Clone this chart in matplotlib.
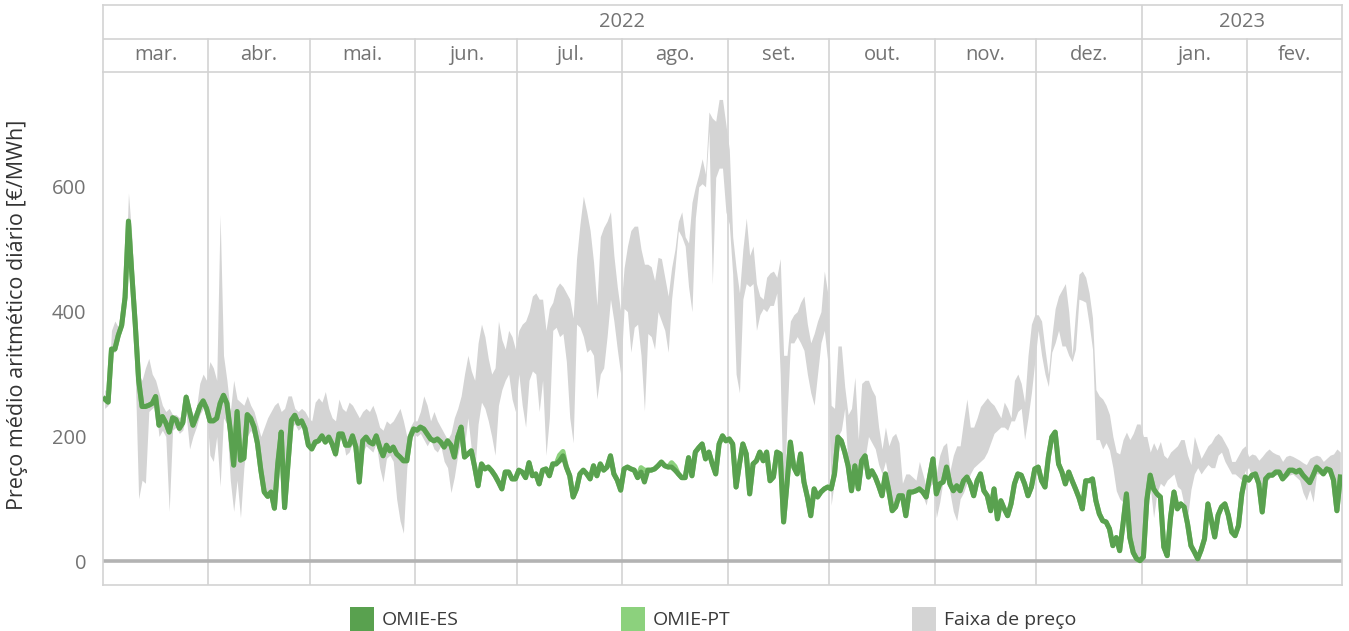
import numpy as np
import pandas as pd
import matplotlib
matplotlib.use("Agg")
import matplotlib.pyplot as plt
from matplotlib.patches import Rectangle

plt.rcParams["font.family"] = ["Open Sans", "DejaVu Sans"]

# preço médio diário OMIE-ES [€/MWh], um valor por dia (mar/2022 .. fev/2023)
ES_MAR = [260, 255, 340, 340, 362, 378, 423, 545, 460, 380, 290, 248, 248, 250, 253, 264,
          218, 232, 222, 207, 230, 227, 213, 222, 263, 240, 218, 232, 248, 257, 245]
ES_ABR = [225, 225, 229, 253, 266, 253, 210, 154, 240, 162, 165, 235, 229, 215, 189, 146,
          111, 104, 111, 85, 157, 207, 86, 157, 226, 234, 221, 225, 213, 186]
ES_MAI = [180, 191, 193, 201, 191, 199, 188, 172, 204, 204, 186, 186, 201, 183, 127, 193,
          199, 191, 188, 201, 183, 169, 186, 177, 183, 172, 167, 161, 161, 199, 212]
ES_JUN = [210, 215, 212, 204, 196, 193, 196, 191, 183, 193, 186, 167, 199, 215, 167, 172,
          177, 151, 121, 156, 148, 151, 145, 137, 127, 116, 143, 143, 132, 132]
ES_JUL = [146, 143, 134, 158, 137, 140, 124, 146, 148, 137, 156, 156, 161, 169, 151, 137,
          103, 116, 140, 146, 140, 132, 153, 137, 156, 146, 151, 169, 140, 130, 114]
ES_AGO = [148, 151, 148, 146, 134, 143, 127, 146, 146, 148, 153, 159, 153, 151, 151, 146,
          140, 134, 134, 166, 137, 175, 182, 188, 164, 175, 156, 140, 188, 201, 193]
ES_SET = [196, 188, 119, 156, 188, 172, 108, 156, 161, 175, 161, 175, 129, 135, 175, 172,
          63, 124, 191, 151, 140, 172, 127, 103, 73, 116, 103, 111, 116, 119]
ES_OUT = [116, 140, 199, 193, 175, 153, 113, 153, 116, 161, 169, 135, 145, 135, 121, 105,
          140, 113, 81, 87, 105, 105, 73, 111, 111, 113, 116, 111, 103, 135, 164]
ES_NOV = [108, 124, 127, 151, 124, 113, 121, 113, 129, 135, 124, 105, 129, 140, 113, 105,
          81, 116, 68, 97, 84, 73, 92, 124, 140, 138, 124, 105, 119, 148]
ES_DEZ = [151, 129, 119, 167, 199, 207, 156, 143, 124, 143, 129, 116, 102, 84, 129, 129,
          132, 97, 76, 65, 63, 52, 25, 38, 17, 60, 108, 38, 14, 4, 1]
ES_JAN = [7, 98, 138, 116, 108, 103, 23, 9, 71, 111, 84, 92, 87, 60, 25, 15,
          4, 18, 36, 92, 66, 39, 74, 87, 92, 74, 47, 41, 57, 108, 135]
ES_FEV = [130, 138, 140, 124, 79, 132, 138, 138, 143, 143, 132, 138, 146, 146, 143, 146,
          138, 132, 126, 138, 151, 146, 140, 148, 146, 130, 81, 135]

# OMIE-PT coincide com OMIE-ES excepto nestes dias
PT_DIFF = {"2022-07-13": 170, "2022-07-14": 176, "2022-08-06": 150, "2022-08-07": 146,
           "2022-08-15": 158, "2022-08-16": 152}

# faixa de preço (máximo / mínimo)
HI_MAR = [275, 270, 370, 385, 375, 385, 440, 590, 520, 400, 300, 290, 310, 325, 300, 290,
          270, 250, 240, 245, 235, 235, 230, 240, 270, 250, 235, 245, 285, 300, 290]
LO_MAR = [245, 250, 335, 335, 355, 370, 415, 540, 440, 300, 100, 130, 125, 240, 245, 250,
          200, 210, 200, 80, 210, 215, 205, 210, 235, 180, 200, 215, 235, 245, 240]
HI_ABR = [320, 310, 290, 555, 330, 290, 240, 290, 260, 255, 250, 265, 250, 240, 220, 200,
          215, 230, 240, 250, 255, 240, 245, 265, 265, 245, 240, 245, 240, 230]
LO_ABR = [170, 160, 200, 120, 230, 220, 130, 80, 130, 70, 150, 200, 210, 200, 160, 130,
          110, 100, 105, 80, 120, 195, 80, 145, 215, 220, 210, 215, 200, 180]
HI_MAI = [225, 255, 262, 255, 272, 245, 230, 225, 260, 245, 240, 255, 250, 240, 230, 240,
          245, 240, 250, 235, 215, 210, 225, 220, 225, 235, 245, 225, 200, 215, 225]
LO_MAI = [178, 185, 190, 195, 190, 195, 180, 165, 195, 200, 170, 175, 190, 160, 127, 175,
          185, 180, 175, 190, 150, 127, 165, 170, 160, 100, 65, 45, 150, 190, 205]
HI_JUN = [225, 240, 265, 250, 225, 240, 225, 215, 205, 195, 205, 230, 245, 265, 300, 330,
          305, 290, 350, 380, 360, 325, 300, 310, 385, 355, 340, 370, 360, 340]
LO_JUN = [200, 205, 195, 185, 195, 180, 175, 185, 160, 150, 110, 135, 170, 195, 185, 230,
          180, 140, 220, 255, 245, 225, 200, 170, 250, 275, 290, 300, 260, 240]
HI_JUL = [370, 380, 385, 400, 425, 430, 420, 420, 370, 405, 415, 438, 446, 440, 430, 420,
          390, 485, 540, 585, 560, 530, 480, 410, 520, 535, 545, 560, 490, 440, 400]
LO_JUL = [300, 250, 215, 290, 305, 300, 240, 290, 170, 230, 370, 375, 360, 365, 320, 230,
          190, 380, 375, 360, 335, 340, 330, 260, 300, 310, 360, 420, 385, 340, 300]
HI_AGO = [470, 505, 530, 537, 537, 500, 476, 476, 472, 450, 487, 485, 455, 425, 470, 500,
          545, 560, 520, 510, 575, 600, 620, 645, 620, 720, 710, 705, 740, 740, 700]
LO_AGO = [405, 400, 335, 375, 380, 330, 241, 365, 360, 340, 400, 385, 370, 335, 420, 470,
          530, 520, 505, 440, 400, 550, 600, 605, 600, 690, 444, 615, 630, 630, 560]
HI_SET = [660, 520, 470, 430, 500, 550, 490, 505, 445, 425, 420, 455, 462, 465, 455, 485,
          330, 330, 385, 395, 400, 415, 425, 380, 350, 365, 385, 400, 465, 430]
LO_SET = [540, 460, 300, 270, 420, 445, 440, 445, 370, 395, 405, 400, 410, 410, 430, 300,
          70, 230, 350, 350, 360, 350, 338, 300, 270, 250, 300, 350, 370, 320]
HI_OUT = [250, 245, 345, 345, 280, 235, 245, 295, 195, 285, 290, 290, 275, 265, 215, 180,
          215, 185, 200, 205, 190, 125, 140, 140, 135, 130, 160, 140, 120, 135, 155]
LO_OUT = [90, 130, 200, 210, 245, 150, 110, 150, 115, 160, 165, 200, 190, 180, 155, 140,
          160, 130, 80, 90, 110, 90, 70, 110, 110, 110, 115, 105, 90, 120, 125]
HI_NOV = [140, 170, 185, 190, 145, 170, 185, 185, 225, 260, 215, 215, 230, 248, 255, 262,
          255, 250, 240, 230, 255, 245, 230, 290, 300, 285, 255, 330, 380, 395]
LO_NOV = [70, 95, 130, 155, 110, 80, 65, 100, 110, 125, 140, 150, 155, 160, 165, 175,
          190, 205, 210, 215, 215, 210, 225, 225, 240, 245, 195, 230, 270, 320]
HI_DEZ = [395, 385, 340, 300, 360, 405, 425, 435, 445, 400, 330, 400, 460, 465, 455, 430,
          390, 275, 265, 260, 250, 235, 200, 175, 172, 195, 207, 195, 205, 220, 220]
LO_DEZ = [370, 330, 300, 280, 335, 350, 370, 345, 345, 330, 320, 340, 420, 418, 415, 380,
          340, 195, 195, 180, 190, 178, 150, 113, 100, 95, 110, 50, 20, 8, 3]
HI_JAN = [200, 200, 175, 190, 178, 192, 170, 165, 175, 180, 185, 195, 195, 170, 155, 200,
          182, 165, 175, 185, 190, 200, 205, 200, 190, 180, 160, 160, 170, 180, 185]
LO_JAN = [20, 60, 120, 70, 110, 125, 120, 130, 135, 140, 120, 115, 90, 70, 115, 140,
          150, 140, 148, 155, 150, 150, 170, 175, 160, 150, 140, 140, 135, 130, 145]
HI_FEV = [168, 172, 170, 162, 168, 175, 180, 175, 172, 170, 160, 168, 170, 168, 165, 162,
          158, 155, 165, 168, 170, 168, 160, 165, 170, 172, 180, 175]
LO_FEV = [150, 135, 132, 130, 120, 125, 132, 138, 138, 140, 138, 135, 138, 140, 135, 130,
          110, 98, 115, 95, 140, 140, 142, 142, 148, 140, 120, 138]

MONTHS = ["mar.", "abr.", "mai.", "jun.", "jul.", "ago.", "set.", "out.", "nov.", "dez.",
          "jan.", "fev."]
YEARS = ["2022", "2023"]
Y_TICKS = [0, 200, 400, 600]

C_ES = "#59a14f"
C_PT = "#8cd17d"
C_BAND = "#d4d4d4"
C_GRID = "#d3d3d3"
C_TXT = "#737373"

es = ES_MAR + ES_ABR + ES_MAI + ES_JUN + ES_JUL + ES_AGO + ES_SET + ES_OUT + ES_NOV + ES_DEZ + ES_JAN + ES_FEV
hi = HI_MAR + HI_ABR + HI_MAI + HI_JUN + HI_JUL + HI_AGO + HI_SET + HI_OUT + HI_NOV + HI_DEZ + HI_JAN + HI_FEV
lo = LO_MAR + LO_ABR + LO_MAI + LO_JUN + LO_JUL + LO_AGO + LO_SET + LO_OUT + LO_NOV + LO_DEZ + LO_JAN + LO_FEV

dates = pd.date_range("2022-03-01", "2023-02-28", freq="D")
df = pd.DataFrame({"es": es, "hi": hi, "lo": lo}, index=dates)
df["pt"] = df["es"]
for d, v in PT_DIFF.items():
    df.loc[pd.Timestamp(d), "pt"] = v
x = df.index + pd.Timedelta(hours=12)

month_starts = pd.date_range("2022-03-01", "2023-03-01", freq="MS")
x0, x1 = month_starts[0], month_starts[-1]

W, H = 1349, 631
fig = plt.figure(figsize=(W / 100, H / 100), dpi=100)
L, R = 103 / W, 1342 / W
ax = fig.add_axes([L, 1 - 585 / H, R - L, (585 - 72) / H])
hd = fig.add_axes([L, 1 - 72 / H, R - L, (72 - 5) / H])

# --- área principal ---
ax.fill_between(x, df["lo"], df["hi"], color=C_BAND, lw=0, zorder=1)
ax.plot(x, df["pt"], color=C_PT, lw=3.6, zorder=3, solid_joinstyle="round")
ax.plot(x, df["es"], color=C_ES, lw=3.6, zorder=4, solid_joinstyle="round")
for m in month_starts[1:-1]:
    ax.axvline(m, color=C_GRID, lw=1.2, zorder=0)
ax.axhline(0, color="#b3b3b3", lw=2.6, zorder=2)

ax.set_xlim(x0, x1)
ax.set_ylim(-38, 784)
ax.set_yticks(Y_TICKS)
ax.set_yticklabels([str(t) for t in Y_TICKS])
ax.tick_params(axis="y", length=0, pad=12, labelsize=14.5, labelcolor=C_TXT)
ax.set_xticks([])
for s in ["left", "right", "bottom"]:
    ax.spines[s].set_color(C_GRID)
    ax.spines[s].set_linewidth(1.2)
ax.spines["top"].set_visible(False)

fig.text(18 / W, 1 - 315 / H, "Preço médio aritmético diário [€/MWh]", rotation=90,
         ha="center", va="center", fontsize=15.5, color="#333333")

# --- cabeçalho ano / mês ---
hd.set_xlim(x0, x1)
hd.set_ylim(0, 2)
hd.set_xticks([])
hd.set_yticks([])
for s in hd.spines.values():
    s.set_color(C_GRID)
    s.set_linewidth(1.2)
hd.axhline(1, color=C_GRID, lw=1.2)
for m in month_starts[1:-1]:
    top = 2 if m.month == 1 else 1
    hd.plot([m, m], [0, top], color=C_GRID, lw=1.2)
for i, name in enumerate(MONTHS):
    mid = month_starts[i] + (month_starts[i + 1] - month_starts[i]) / 2
    hd.text(mid, 0.5, name, ha="center", va="center", fontsize=14.5, color=C_TXT)
year_edges = [x0, pd.Timestamp("2023-01-01"), x1]
for i, yr in enumerate(YEARS):
    mid = year_edges[i] + (year_edges[i + 1] - year_edges[i]) / 2
    hd.text(mid, 1.5, yr, ha="center", va="center", fontsize=14.5, color=C_TXT)

# --- legenda ---
legend_items = [("OMIE-ES", C_ES, 350), ("OMIE-PT", C_PT, 621), ("Faixa de preço", C_BAND, 912)]
for label, col, px in legend_items:
    fig.patches.append(Rectangle((px / W, 1 - 631 / H), 24 / W, 24 / H,
                                 transform=fig.transFigure, color=col, lw=0))
    fig.text((px + 32) / W, 1 - 620 / H, label, ha="left", va="center",
             fontsize=14, color="#3a3a3a")

fig.savefig("out.png", dpi=100)
